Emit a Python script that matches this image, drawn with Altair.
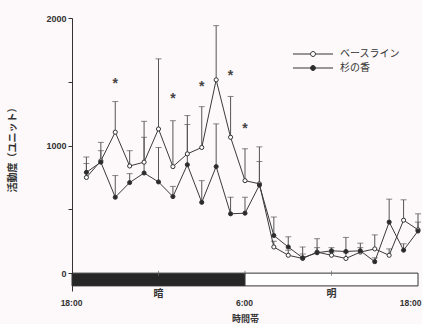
import altair as alt
import pandas as pd

# ---- data ----
hours = list(range(1, 25))
series_names = ["ベースライン", "杉の香"]
baseline = [750, 880, 1105, 840, 870, 1130, 835, 935, 985, 1515, 1065, 725,
            700, 205, 140, 115, 165, 140, 115, 165, 190, 140, 415, 340]
baseline_err = [910, 1025, 1345, 960, 1190, 1680, 1195, 1235, 1305, 1940, 1385, 975,
                875, 250, 180, 150, 200, 160, 160, 200, 300, 190, 575, 400]
sugi = [790, 870, 595, 710, 785, 715, 600, 850, 555, 835, 465, 470,
        690, 295, 205, 120, 160, 175, 170, 175, 90, 400, 180, 330]
sugi_err = [860, 960, 765, 780, 1065, 985, 680, 1165, 725, 1170, 595, 595,
            990, 440, 285, 205, 270, 200, 280, 235, 120, 580, 230, 465]
ast_hours = [3, 7, 9, 11, 12]
ast_vals = [1510, 1385, 1480, 1565, 1150]
period_labels = ["暗", "明"]
period_start = [0, 12]
period_end = [12, 24]
period_mid = [6, 18]
bar_ticks = [6, 12, 18]
x_tick_values = [0, 12, 24]
x_tick_labels = ["18:00", "6:00", "18:00"]
y_tick_values = [0, 500, 1000, 1500, 2000]

rows = []
for i, h in enumerate(hours):
    rows.append({"hour": h, "series": series_names[0], "value": baseline[i], "err": baseline_err[i]})
    rows.append({"hour": h, "series": series_names[1], "value": sugi[i], "err": sugi_err[i]})
df = pd.DataFrame(rows)
ast_df = pd.DataFrame({"hour": ast_hours, "value": ast_vals})
period_df = pd.DataFrame({"label": period_labels, "start": period_start,
                          "end": period_end, "mid": period_mid})
tick_df = pd.DataFrame({"hour": bar_ticks})

JP = "Noto Sans CJK JP"
NUM = "Liberation Sans"
INK = "#333333"

label_map = "{" + ",".join(f"'{v}':'{l}'" for v, l in zip(x_tick_values, x_tick_labels)) + "}"

xscale = alt.Scale(domain=[0, 24], nice=False)
yscale = alt.Scale(domain=[-140, 2000], nice=False, zero=False)

x_axis = alt.Axis(values=x_tick_values, labelExpr=f"{label_map}[datum.value]",
                  ticks=False, domain=False, grid=False, title="時間帯",
                  labelFont=NUM, labelFontWeight="bold", labelFontSize=8.5,
                  labelColor=INK, labelPadding=7,
                  labelAlign=alt.ConditionalAxisLabelAlign(
                      condition={"test": "datum.value == 24", "value": "right"}, value="center"),
                  labelOffset=alt.ConditionalAxisNumber(
                      condition={"test": "datum.value == 24", "value": 3}, value=-1),
                  titleFont=JP, titleFontSize=9, titleFontWeight="bold",
                  titleColor=INK, titlePadding=8)
y_axis = alt.Axis(values=y_tick_values, format="d",
                  labelExpr="datum.value % 1000 == 0 ? datum.label : ''",
                  grid=False, title="活動度（ユニット）", tickSize=4, tickColor=INK,
                  domainColor=INK, labelFont=NUM, labelFontWeight="bold",
                  labelFontSize=9, labelColor=INK, labelPadding=2,
                  titleFont=JP, titleFontSize=10, titleFontWeight="bold",
                  titleColor=INK, titleX=-55, titleY=129)

base = alt.Chart(df)

dark = alt.Chart(period_df).transform_filter(alt.datum.label == "暗").mark_rect(
    fill="#262626", stroke=INK, strokeWidth=1).encode(
    x=alt.X("start:Q", scale=xscale, axis=x_axis),
    x2="end:Q",
    y=alt.Y(datum=0, scale=yscale, axis=y_axis),
    y2=alt.Y2(datum=-100))
light = alt.Chart(period_df).transform_filter(alt.datum.label == "明").mark_rect(
    fill="#ffffff", stroke=INK, strokeWidth=1).encode(
    x=alt.X("start:Q", scale=xscale), x2="end:Q",
    y=alt.Y(datum=0, scale=yscale), y2=alt.Y2(datum=-100))
period_text = alt.Chart(period_df).mark_text(
    font=JP, fontSize=10, fontWeight="bold", color=INK, baseline="middle").encode(
    x=alt.X("mid:Q", scale=xscale), y=alt.Y(datum=-165, scale=yscale), text="label:N")
bticks = alt.Chart(tick_df).mark_tick(orient="vertical", size=5, thickness=1, color="#666").encode(
    x=alt.X("hour:Q", scale=xscale), y=alt.Y(datum=0, scale=yscale))

rules = base.mark_rule(color="#555555", strokeWidth=1).encode(
    x=alt.X("hour:Q", scale=xscale), y=alt.Y("value:Q", scale=yscale), y2="err:Q")
caps = base.mark_tick(orient="horizontal", size=6, thickness=1, color="#555555").encode(
    x=alt.X("hour:Q", scale=xscale), y=alt.Y("err:Q", scale=yscale))
lines = base.mark_line(color="#3a3a3a", strokeWidth=1).encode(
    x=alt.X("hour:Q", scale=xscale), y=alt.Y("value:Q", scale=yscale), detail="series:N")

# legend symbol: a line with a small circle in its middle (unit = 7.5 px)
legend_path = ("M-2.67,0H-0.33M0.33,0H2.67M0.33,0A0.33,0.33,0,1,1,-0.33,0"
               "A0.33,0.33,0,1,1,0.33,0Z")
points = base.mark_point(shape="circle", filled=True, size=17, stroke=INK,
                         strokeWidth=1, opacity=1).encode(
    x=alt.X("hour:Q", scale=xscale), y=alt.Y("value:Q", scale=yscale),
    fill=alt.Fill("series:N", scale=alt.Scale(domain=series_names, range=["#ffffff", "#2b2b2b"]),
                  legend=alt.Legend(title=None, orient="none", legendX=233, legendY=28,
                                    symbolType=legend_path, symbolSize=225,
                                    symbolStrokeColor=INK, symbolStrokeWidth=1,
                                    labelFont=JP, labelFontSize=10, labelColor=INK,
                                    labelOffset=19, rowPadding=1, padding=0)))
asts = alt.Chart(ast_df).mark_text(text="*", fontSize=14, fontWeight="bold",
                                   color="#444444", font=NUM, baseline="middle", dy=3).encode(
    x=alt.X("hour:Q", scale=xscale), y=alt.Y("value:Q", scale=yscale))

chart = alt.layer(dark, light, bticks, period_text, rules, caps, lines, points, asts).properties(
    width=346, height=273, autosize="none",
    padding={"left": 72, "top": 18, "right": 4, "bottom": 33},
    background="#fdf8f9",
).configure_view(stroke=None)

chart.save("out.html", embed_options={"renderer": "svg", "actions": False})
